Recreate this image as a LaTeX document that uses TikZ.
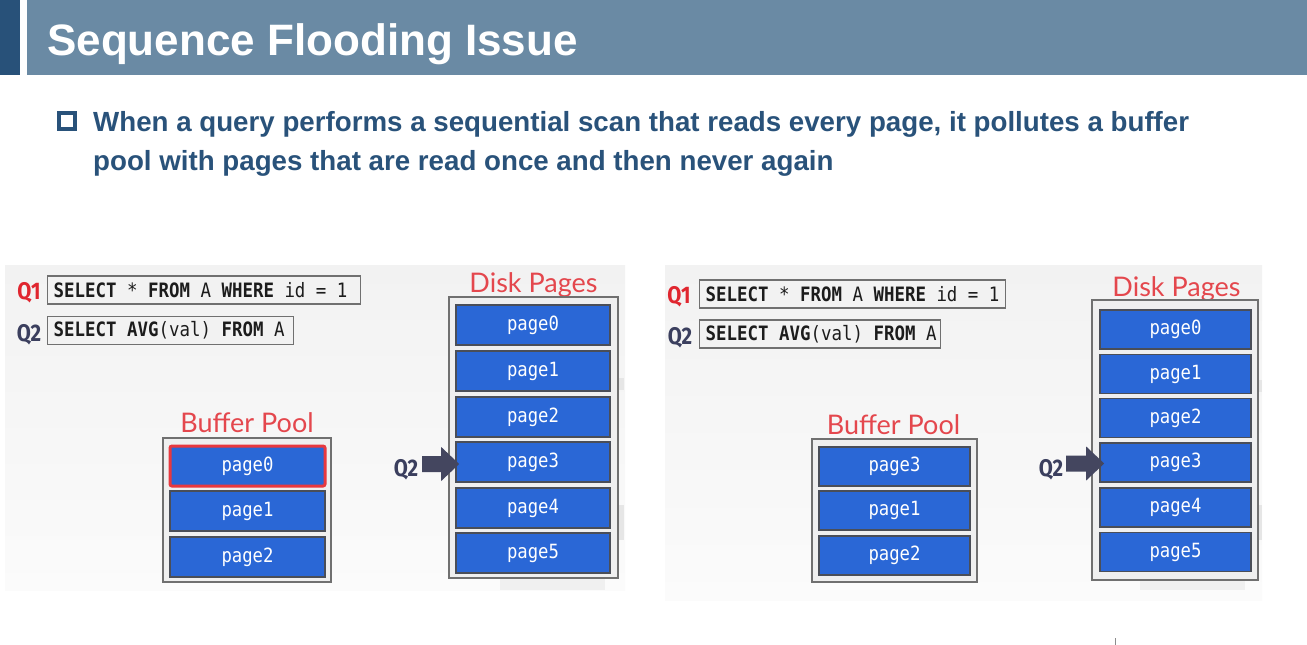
\documentclass[tikz,border=0pt]{standalone}
\usepackage{fontspec}
\setmainfont{Liberation Sans}
\newfontfamily\monofont[FakeStretch=0.88]{DejaVu Sans Mono}
\newfontfamily\labfont{Lato}
\newfontfamily\qfont[FakeStretch=0.85]{Fira Sans}
\usetikzlibrary{calc}
\newcommand\ssp{\hspace*{0.53em}}
\definecolor{ttldark}{HTML}{285179}
\definecolor{ttlbar}{HTML}{6A8AA4}
\definecolor{bultext}{HTML}{29527A}
\definecolor{pgblue}{HTML}{2A67D6}
\definecolor{pgborder}{HTML}{4A4E58}
\definecolor{boxborder}{HTML}{707070}
\definecolor{boxfill}{HTML}{EFEFEF}
\definecolor{sqlfill}{HTML}{F2F2F2}
\definecolor{sqltext}{HTML}{1C1C1C}
\definecolor{labred}{HTML}{E4474D}
\definecolor{qred}{HTML}{E0262F}
\definecolor{hlred}{HTML}{E8383F}
\definecolor{qnavy}{HTML}{3B3F5E}
\definecolor{arrowc}{HTML}{44465F}
\definecolor{panelA}{HTML}{F2F2F2}
\definecolor{panelB}{HTML}{FBFBFB}
\definecolor{shadowc}{HTML}{E6E6E6}
\begin{document}
\begin{tikzpicture}[x=1pt,y=-1pt,
  page/.style={draw=pgborder, line width=1.6pt, fill=pgblue, text=white,
    font=\monofont\fontsize{19.6}{22}\selectfont, minimum width=154pt,
    minimum height=40pt, inner sep=0pt},
  poolbox/.style={draw=boxborder, line width=1.6pt, fill=boxfill, inner sep=0pt},
  sql/.style={draw=boxborder, line width=1.4pt, fill=sqlfill, text=sqltext,
    font=\monofont\fontsize{19.8}{22}\selectfont, align=left, inner xsep=6pt,
    inner ysep=0pt, minimum height=28pt, anchor=west},
  qlab/.style={font=\qfont\bfseries\fontsize{24}{28}\selectfont, anchor=base, inner sep=0pt},
  ttl/.style={text=labred, font=\labfont\fontsize{27}{30}\selectfont, anchor=base, inner sep=0pt},
]
\useasboundingbox (0,0) rectangle (1307,645);
% title bar
\fill[ttldark] (0,0) rectangle (20,75);
\fill[ttlbar] (27,0) rectangle (1307,75);
\node[anchor=base west, inner sep=0pt, text=white,
  font=\bfseries\fontsize{44}{50}\selectfont] (title) at (47,55) {Sequence Flooding Issue};
% bullet
\node[draw=bultext, line width=3.4pt, minimum width=16pt, minimum height=16pt,
  inner sep=0pt] (bul) at (67,121) {};
\node[anchor=base west, inner sep=0pt, text=bultext,
  font=\bfseries\fontsize{27.7}{33}\selectfont] (line1) at (93,131)
  {When a query performs a sequential scan that reads every page, it pollutes a buffer};
\node[anchor=base west, inner sep=0pt, text=bultext,
  font=\bfseries\fontsize{27.7}{33}\selectfont] (line2) at (93,170)
  {pool with pages that are read once and then never again};
% panels
\shade[top color=panelA, bottom color=panelB] (5,265) rectangle (625,590);
\shade[top color=panelA, bottom color=panelB] (665,265) rectangle (1262,600);
% faint shadows
\fill[shadowc] (618,378) rectangle (624,390);
\fill[shadowc] (618,505) rectangle (624,540);
\fill[shadowc!60] (500,578) rectangle (605,590);
\fill[shadowc] (1258,380) rectangle (1262,392);
\fill[shadowc] (1258,505) rectangle (1262,540);
\fill[shadowc!60] (1140,580) rectangle (1245,590);

% ===== LEFT =====
\node[qlab, text=qred] (lq1) at (29,299) {Q1};
\node[qlab, text=qnavy] (lq2) at (29,341) {Q2};
\node[sql, text width=301pt] (lsql1) at (47,290) {\bfseries SELECT\ssp\mdseries*\ssp\bfseries FROM\ssp\mdseries A\ssp\bfseries WHERE\ssp\mdseries id\ssp=\ssp1};
\node[sql, text width=234pt] (lsql2) at (47,330.5) {\bfseries SELECT\ssp AVG\mdseries(val)\ssp\bfseries FROM\ssp\mdseries A};

\node[ttl] (ldlab) at (533.5,292) {Disk Pages};
\node[poolbox, minimum width=169pt, minimum height=281pt] (ldisk) at (533.5,437.5) {};
\foreach \i/\yy in {0/325,1/371,2/417,3/462,4/508,5/553}
  \node[page] (ld\i) at (533,\yy) {page\i};

\node[ttl] (lblab) at (247,432) {Buffer Pool};
\node[poolbox, minimum width=168pt, minimum height=144pt] (lbuf) at (247,510) {};
\node[page, draw=hlred, line width=3pt, rounded corners=2pt, minimum width=155pt] (lb0) at (247.5,466) {page0};
\node[page, minimum width=155pt] (lb1) at (247.5,511) {page1};
\node[page, minimum width=155pt] (lb2) at (247.5,557) {page2};

\node[qlab, text=qnavy] (lq2a) at (406,476) {Q2};
\fill[arrowc] ($(ld3.west)+(4,2)$) -- ++(-18,-17) -- ++(0,9) -- ++(-19,0)
  -- ++(0,16) -- ++(19,0) -- ++(0,9) -- cycle;

% ===== RIGHT =====
\node[qlab, text=qred] (rq1) at (679,303) {Q1};
\node[qlab, text=qnavy] (rq2) at (680,344) {Q2};
\node[sql, text width=294pt] (rsql1) at (699,294) {\bfseries SELECT\ssp\mdseries*\ssp\bfseries FROM\ssp\mdseries A\ssp\bfseries WHERE\ssp\mdseries id\ssp=\ssp1};
\node[sql, text width=229pt] (rsql2) at (699,334) {\bfseries SELECT\ssp AVG\mdseries(val)\ssp\bfseries FROM\ssp\mdseries A};

\node[ttl] (rdlab) at (1176.5,296) {Disk Pages};
\node[poolbox, minimum width=166pt, minimum height=280pt] (rdisk) at (1175,440) {};
\foreach \i/\yy in {0/329.5,1/374,2/418,3/462.5,4/507.5,5/552}
  \node[page, minimum width=151pt, minimum height=39pt] (rd\i) at (1175.5,\yy) {page\i};

\node[ttl] (rblab) at (893.5,434) {Buffer Pool};
\node[poolbox, minimum width=165pt, minimum height=143pt] (rbuf) at (894.5,510.5) {};
\node[page, minimum width=151pt, minimum height=39pt] (rb0) at (894.5,466.5) {page3};
\node[page, minimum width=151pt, minimum height=39pt] (rb1) at (894.5,510.5) {page1};
\node[page, minimum width=151pt, minimum height=39pt] (rb2) at (894.5,555.5) {page2};

\node[qlab, text=qnavy] (rq2a) at (1051,476) {Q2};
\fill[arrowc] ($(rd3.west)+(5,1)$) -- ++(-18,-17) -- ++(0,9) -- ++(-20,0)
  -- ++(0,16) -- ++(20,0) -- ++(0,9) -- cycle;

\draw[black!45, line width=1pt] (1115,638) -- (1115,645);
\end{tikzpicture}
\end{document}
